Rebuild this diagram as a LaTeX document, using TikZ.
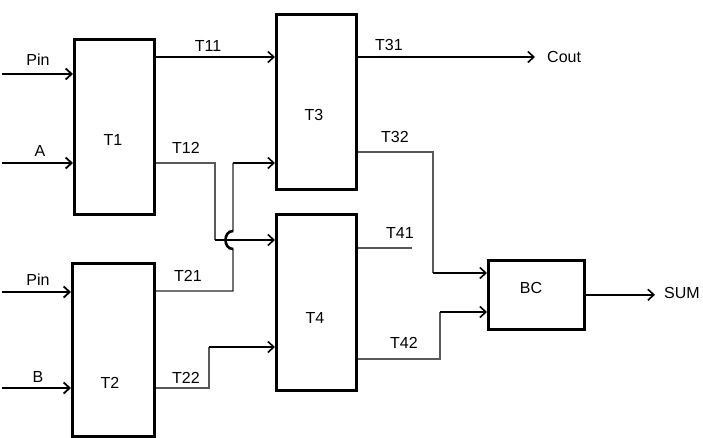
\documentclass[tikz,border=0pt]{standalone}
\usepackage{fontspec}
\setmainfont{Liberation Sans}
\usetikzlibrary{arrows.meta, positioning}

\begin{document}
\begin{tikzpicture}[
    x=1pt, y=-1pt,
    unit/.style={draw, line width=2.6pt, anchor=north west, inner sep=0pt},
    lbl/.style={inner sep=0pt, font=\fontsize{16}{19}\selectfont},
    inarr/.style={-{Straight Barb[length=6pt, width=11pt, line width=1.8pt]}, line width=2.6pt},
    arr/.style={-{Straight Barb[length=6pt, width=11pt, line width=1.6pt]}, line width=2pt},
    wire/.style={line width=1.2pt, black!65},
    font=\fontsize{16}{19}\selectfont
]
\useasboundingbox (0,0) rectangle (703,438);

% ---- blocks ----
\node[unit, minimum width=80pt, minimum height=175pt] (T1) at (73,38)  {};
\node[unit, minimum width=82pt, minimum height=173pt] (T2) at (71,262) {};
\node[unit, minimum width=80pt, minimum height=175pt] (T3) at (275,13) {};
\node[unit, minimum width=80pt, minimum height=176pt] (T4) at (275,213) {};
\node[unit, minimum width=96pt, minimum height=69pt]  (BC) at (487,259) {};

\node[lbl] (t1name) at (113,140) {T1};
\node[lbl] (t2name) at (110,383) {T2};
\node[lbl] (t3name) at (314,115) {T3};
\node[lbl] (t4name) at (315,318) {T4};
\node[lbl] (bcname) at (531,288) {BC};

% ---- free ends and bends ----
\coordinate (pin1) at (2,74);
\coordinate (ina)  at (2,163);
\coordinate (pin2) at (2,292);
\coordinate (inb)  at (2,388);
\coordinate (t11)  at (200,57);
\coordinate (cout) at (535,57);
\coordinate (j12a) at (215,163);
\coordinate (j12b) at (215,240);
\coordinate (j21a) at (233,291);
\coordinate (j21b) at (233,163);
\coordinate (j22a) at (209,388);
\coordinate (j22b) at (209,347);
\coordinate (j32a) at (433,152);
\coordinate (j32b) at (433,273);
\coordinate (t41)  at (412,248);
\coordinate (j42a) at (440,359);
\coordinate (j42b) at (440,312);
\coordinate (sum)  at (655,293);

% ---- inputs ----
\draw[inarr] (pin1) -- (pin1 -| T1.west);
\draw[inarr] (ina)  -- (ina -| T1.west);
\draw[inarr] (pin2) -- (pin2 -| T2.west);
\draw[inarr] (inb)  -- (inb -| T2.west);
\node[lbl] (lpin1) at (38,60)  {Pin};
\node[lbl] (la)    at (40,151) {A};
\node[lbl] (lpin2) at (38,280) {Pin};
\node[lbl] (lb)    at (38,377) {B};

% ---- T1 / T2 outputs ----
\draw[arr] (T1.east |- t11) -- (T3.west |- t11);
\draw[wire] (T1.east |- j12a) -- (j12a) -- (j12b);
\draw[arr] (j12b) -- (j12b -| T4.west);
\draw[wire, black!85, line width=1.4pt] (T2.east |- j21a) -- (j21a) -- (233,249)
    .. controls (223,249) and (223,231) .. (233,231) -- (j21b);
\draw[line width=2.6pt] (233,249) .. controls (223,249) and (223,231) .. (233,231);
\draw[arr] (j21b) -- (j21b -| T3.west);
\draw[wire] (T2.east |- j22a) -- (j22a) -- (j22b);
\draw[arr] (j22b) -- (j22b -| T4.west);
\node[lbl] (l11) at (208,46)  {T11};
\node[lbl] (l12) at (186,148) {T12};
\node[lbl] (l21) at (188,276) {T21};
\node[lbl] (l22) at (186,378) {T22};

% ---- T3 / T4 outputs ----
\draw[arr] (T3.east |- cout) -- (cout);
\node[lbl, right=12pt of cout] (lcout) {Cout};
\draw[wire] (T3.east |- j32a) -- (j32a) -- (j32b);
\draw[arr] (j32b) -- (j32b -| BC.west);
\draw[wire] (T4.east |- t41) -- (t41);
\draw[wire] (T4.east |- j42a) -- (j42a) -- (j42b);
\draw[arr] (j42b) -- (j42b -| BC.west);
\node[lbl] (l31) at (389,45)  {T31};
\node[lbl] (l32) at (395,137) {T32};
\node[lbl] (l41) at (400,233) {T41};
\node[lbl] (l42) at (404,343) {T42};

% ---- sum ----
\draw[arr] (BC.east) -- (BC.east -| sum);
\node[lbl, right=9pt of sum] (lsum) {SUM};

\end{tikzpicture}
\end{document}
